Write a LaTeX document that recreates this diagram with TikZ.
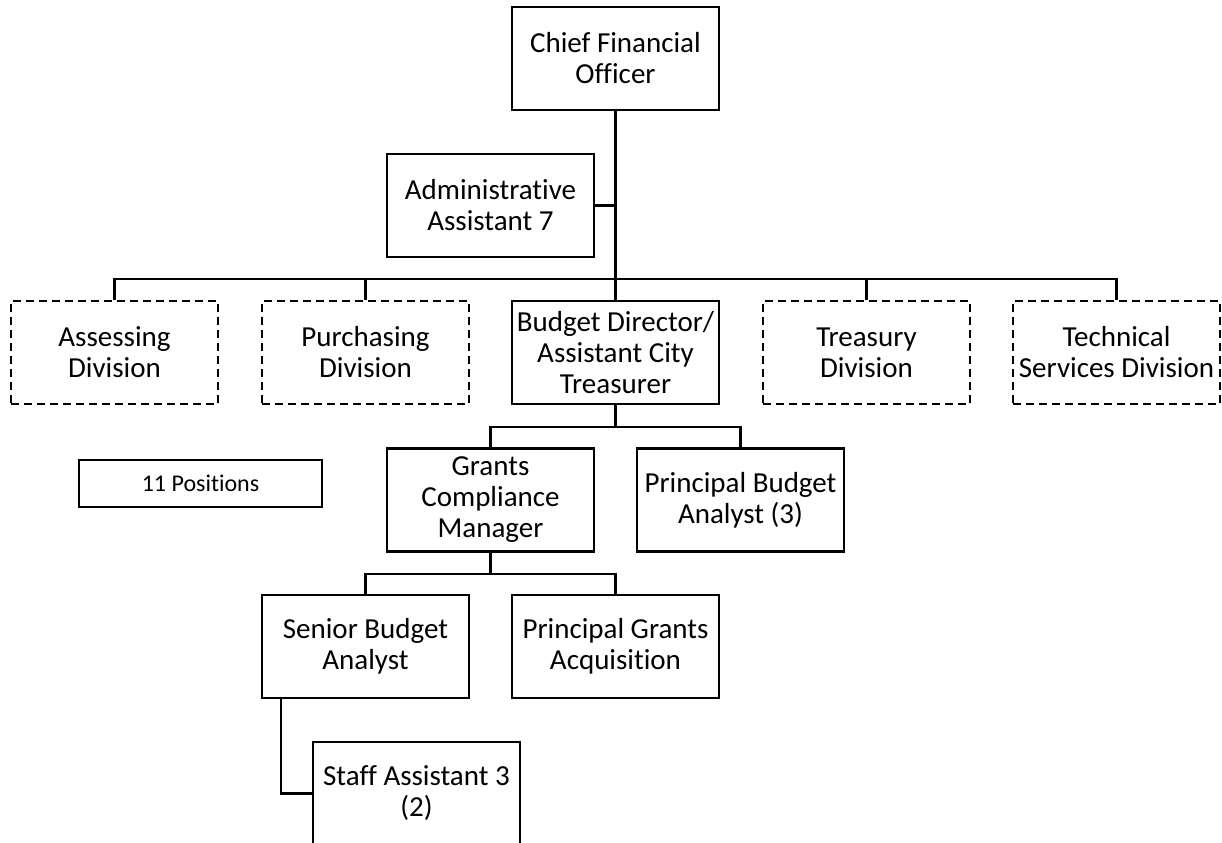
\documentclass[tikz,border=0pt]{standalone}
\usepackage{fontspec}
\setmainfont{Carlito}[Ligatures=NoCommon]
\usetikzlibrary{positioning}

\begin{document}
\begin{tikzpicture}[x=0.5pt, y=-0.5pt,
	post/.style={draw, line width=1.2pt, minimum width=103.5pt, minimum height=51.5pt,
		inner sep=0pt, align=center, font=\fontsize{14.5}{15.5}\selectfont},
	division/.style={post, line width=1.3pt, dash pattern=on 4pt off 2.5pt},
	link/.style={line width=1.1pt}]
		\clip (0,0) rectangle (1222,842);
		% top of the office
		\node[post] (cfo) at (615.5,58.5) {Chief Financial\\Officer};
		\node[post] (admin) at (490.5,205.5) {Administrative\\Assistant 7};
		% second row
		\node[division] (assess) at (114.5,352.5) {Assessing\\Division};
		\node[division] (purch) at (365.5,352.5) {Purchasing\\Division};
		\node[post] (budget) at (615.5,352.5) {Budget Director/\\Assistant City\\Treasurer};
		\node[division] (treas) at (866.5,352.5) {Treasury\\Division};
		\node[division] (tech) at (1116.5,352.5) {Technical\\Services Division};
		% budget office
		\node[post] (grants) at (490.5,500) {Grants\\Compliance\\Manager};
		\node[post] (pba) at (740.5,500) {Principal Budget\\Analyst (3)};
		\node[post] (sba) at (365.5,646.5) {Senior Budget\\Analyst};
		\node[post] (pga) at (615.5,646.5) {Principal Grants\\Acquisition};
		\node[post] (staff) at (416.5,793.5) {Staff Assistant 3\\(2)};
		\node[draw, line width=1.2pt, minimum width=121.5pt, minimum height=23.5pt,
			inner sep=0pt, font=\fontsize{12}{14}\selectfont] (count) at (200.5,483.5) {11 Positions};

		\coordinate (bar) at (615.5,279);
		\draw[line width=1.5pt] (cfo.south) -- (budget.north);
		\draw[link] (admin.east) -- (admin.east -| cfo.south);
		\foreach \n in {assess,purch,treas,tech}
		{
			\draw[link] (\n.north) |- (bar);
		}
		\draw[link] (budget.south) -- ++(0,22) coordinate (bb);
		\draw[link] (grants.north) |- (bb) -| (pba.north);
		\draw[link] (grants.south) -- ++(0,21) coordinate (gb);
		\draw[link] (sba.north) |- (gb) -| (pga.north);
		\draw[link] ([xshift=10pt]sba.south west) |- (staff.west);
	\end{tikzpicture}
\end{document}
